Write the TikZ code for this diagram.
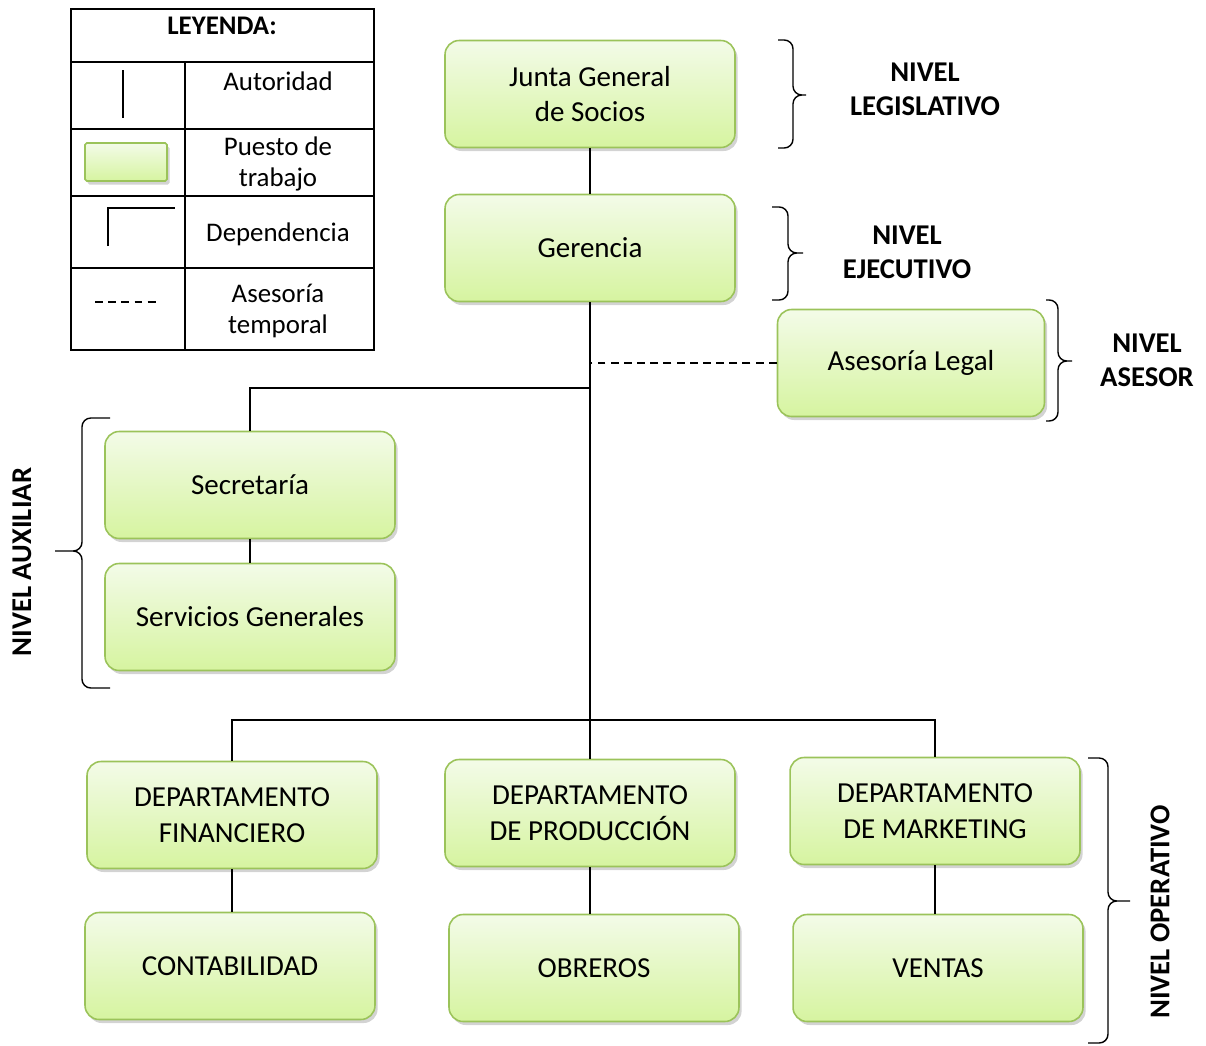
\documentclass[tikz,border=0pt]{standalone}
\usepackage{fontspec}
\setmainfont{Carlito}
\usetikzlibrary{calc}
\usetikzlibrary{shadows}

\definecolor{puestoborde}{RGB}{155,195,90}
\definecolor{puestoarriba}{RGB}{243,251,232}
\definecolor{puestoabajo}{RGB}{214,244,160}

\begin{document}
\begin{tikzpicture}[x=0.02cm,y=-0.02cm]
% % Estilos
 \tikzset{
 	puesto/.style={draw=puestoborde, line width=0.9pt, rounded corners=8pt,
 		top color=puestoarriba, bottom color=puestoabajo,
 		minimum width=5.8cm, minimum height=2.14cm, align=center,
 		font=\fontsize{16.5}{20.4}\selectfont,
 		drop shadow={shadow xshift=1.5pt, shadow yshift=-2pt, opacity=0.35}},
 	linea/.style={line width=0.8pt},
 	asesoriatemp/.style={line width=0.8pt, dash pattern=on 4.5pt off 3pt},
 	nivel/.style={font=\fontsize{16.3}{19.3}\selectfont\bfseries, align=center},
 	llave/.style={line width=0.8pt, rounded corners=5pt},
 	leyenda/.style={font=\fontsize{15.3}{18.1}\selectfont, align=center}
 }
 \useasboundingbox (0,0) rectangle (1206,1045);
% % Leyenda
 \draw[line width=1pt] (71,9) rectangle (374,350);
 \draw[line width=1pt] (71,62) -- (374,62) (71,129) -- (374,129) (71,196) -- (374,196) (71,268) -- (374,268) (185,62) -- (185,350);
 \node[font=\fontsize{15.3}{18.1}\selectfont\bfseries] (leyenda) at (222,26) {LEYENDA:};
 \node[leyenda] (autoridad) at (278,81) {Autoridad};
 \node[leyenda] (puestotxt) at (278,164) {Puesto de\\trabajo};
 \node[leyenda] (dependencia) at (278,234) {Dependencia};
 \node[leyenda] (temporal) at (278,311) {Asesoría\\temporal};
 \draw[linea] (123,70) -- (123,118);
 \node[puesto, rounded corners=1pt, minimum width=1.64cm, minimum height=0.76cm] (muestra) at (126,162) {};
 \draw[linea] (108,246) -- (108,208) -- (175,208);
 \draw[asesoriatemp] (95,302) -- (157,302);
% % Puestos
 \node[puesto] (junta) at (590,94) {Junta General\\de Socios};
 \node[puesto] (gerencia) at (590,248) {Gerencia};
 \node[puesto, minimum width=5.34cm] (asesoria) at (911,363) {Asesoría Legal};
 \node[puesto] (secretaria) at (250,485) {Secretaría};
 \node[puesto] (servicios) at (250,617) {Servicios Generales};
 \node[puesto] (financiero) at (232,815) {DEPARTAMENTO\\FINANCIERO};
 \node[puesto] (produccion) at (590,813) {DEPARTAMENTO\\DE PRODUCCIÓN};
 \node[puesto] (marketing) at (935,811) {DEPARTAMENTO\\DE MARKETING};
 \node[puesto] (contabilidad) at (230,966) {CONTABILIDAD};
 \node[puesto] (obreros) at (594,968) {OBREROS};
 \node[puesto] (ventas) at (938,968) {VENTAS};
% % Lineas
 \coordinate (ramaaux) at (590,388);
 \coordinate (ramaop) at (590,720);
 \draw[linea] (junta) -- (gerencia);
 \draw[linea] (gerencia) -- (ramaop);
 \draw[asesoriatemp] (asesoria.west) -- (asesoria.west -| gerencia.south);
 \draw[linea] (ramaaux) -| (secretaria);
 \draw[linea] (secretaria) -- (servicios);
 \draw[linea] (ramaop) -| (financiero);
 \draw[linea] (ramaop) -| (marketing);
 \draw[linea] (ramaop) -- (produccion);
 \draw[linea] (financiero.south) -- (financiero.south |- contabilidad.north);
 \draw[linea] (produccion.south) -- (produccion.south |- obreros.north);
 \draw[linea] (marketing.south) -- (marketing.south |- ventas.north);
% % Niveles
 \draw[llave] (778,40) -| (793,95) -- (806,95) (806,95) -- (793,95) |- (778,148);
 \node[nivel] (legislativo) at (925,89) {NIVEL\\LEGISLATIVO};
 \draw[llave] (772,207) -| (788,253) -- (803,253) (803,253) -- (788,253) |- (772,300);
 \node[nivel] (ejecutivo) at (907,252) {NIVEL\\EJECUTIVO};
 \draw[llave] (1046,300) -| (1058,361) -- (1072,361) (1072,361) -- (1058,361) |- (1046,421);
 \node[nivel] (asesor) at (1147,360) {NIVEL\\ASESOR};
 \draw[llave] (110,418) -| (82,551) -- (55,551) (55,551) -- (82,551) |- (110,688);
 \node[nivel, rotate=90] (auxiliar) at (22,562) {NIVEL AUXILIAR};
 \draw[llave] (1088,758) -| (1108,901) -- (1130,901) (1130,901) -- (1108,901) |- (1088,1043);
 \node[nivel, rotate=90] (operativo) at (1160,912) {NIVEL OPERATIVO};
\end{tikzpicture}
\end{document}
